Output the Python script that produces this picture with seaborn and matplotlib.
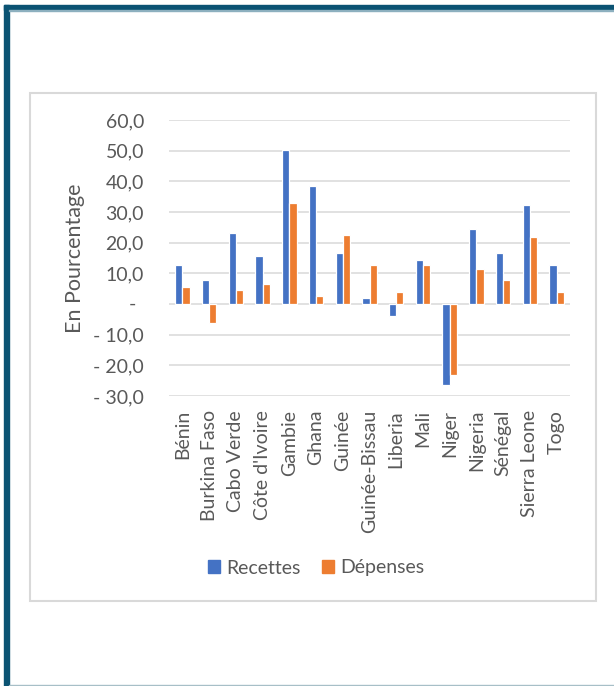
import matplotlib
matplotlib.use("Agg")
import matplotlib.pyplot as plt
import matplotlib.patches as mpatches
import matplotlib.transforms as mtransforms
import seaborn as sns
import pandas as pd

# ---- data ----
pays = ["Bénin", "Burkina Faso", "Cabo Verde", "Côte d'Ivoire", "Gambie", "Ghana",
        "Guinée", "Guinée-Bissau", "Liberia", "Mali", "Niger", "Nigeria", "Sénégal",
        "Sierra Leone", "Togo"]
recettes = [12.7, 7.7, 23.1, 15.5, 50.1, 38.5, 16.6, 1.8, -3.8, 14.2, -26.3, 24.4, 16.6, 32.4, 12.8]
depenses = [5.4, -6.3, 4.5, 6.4, 32.9, 2.5, 22.5, 12.8, 3.9, 12.8, -23.3, 11.5, 7.9, 21.8, 4.0]
series = ["Recettes", "Dépenses"]
yticks = [-30, -20, -10, 0, 10, 20, 30, 40, 50, 60]
ylabel = "En Pourcentage"

df = pd.DataFrame({
    "pays": pays * 2,
    "valeur": recettes + depenses,
    "serie": [series[0]] * len(pays) + [series[1]] * len(pays),
})

BLUE = "#4472C4"
ORANGE = "#ED7D31"
GRAY_TXT = "#595959"
GRID = "#D9D9D9"
FONT = "Lato"
FS = 14

sns.set_theme(style="white")
plt.rcParams["font.family"] = [FONT, "DejaVu Sans"]

fig = plt.figure(figsize=(6.14, 6.86), dpi=100)
ax = fig.add_axes([169 / 614, 1 - 396 / 686, 401 / 614, 276 / 686])

sns.barplot(data=df, x="pays", y="valeur", hue="serie", order=pays, hue_order=series,
            palette=[BLUE, ORANGE], width=0.54, edgecolor="white", linewidth=0.9,
            saturation=1, ax=ax, legend=False)

ax.set_ylim(-30, 60)
ax.set_xlim(-0.5, len(pays) - 0.5)
ax.set_yticks(yticks)


def fmt(v):
    if v == 0:
        return ""
    s = f"{abs(v):.1f}".replace(".", ",")
    return ("- " + s) if v < 0 else s


ax.set_yticklabels([fmt(v) for v in yticks])
ax.yaxis.grid(True, color=GRID, linewidth=1.1)
ax.xaxis.grid(False)
ax.set_axisbelow(True)
for sp in ax.spines.values():
    sp.set_visible(False)
ax.tick_params(axis="y", length=0, pad=18, labelsize=FS, labelcolor=GRAY_TXT)
ax.tick_params(axis="x", length=0, pad=10, labelsize=FS, labelcolor=GRAY_TXT)
plt.setp(ax.get_xticklabels(), rotation=90)
ax.set_xlabel("")

# zero label shown as "-"
trans = mtransforms.blended_transform_factory(ax.transAxes, ax.transData)
ax.annotate("-", xy=(0, 0), xycoords=trans, xytext=(-26.6, 0), textcoords="offset points",
            ha="center", va="center", fontsize=FS, color=GRAY_TXT)

ax.set_ylabel(ylabel, fontsize=15.5, color=GRAY_TXT)
ax.yaxis.set_label_coords((75 - 169) / 401, 0.5)
ax.yaxis.label.set_verticalalignment("center")

# legend
handles = [mpatches.Patch(color=BLUE, label=series[0]),
           mpatches.Patch(color=ORANGE, label=series[1])]
leg = fig.legend(handles=handles, loc="center", bbox_to_anchor=(316 / 614, 1 - 568 / 686),
                 ncol=2, frameon=False, fontsize=FS, handlelength=0.62, handleheight=0.62,
                 handletextpad=0.32, columnspacing=1.1, borderpad=0)
for t in leg.get_texts():
    t.set_color(GRAY_TXT)

# chart box
fig.patches.append(mpatches.Rectangle((30 / 614, 1 - 601 / 686), 566 / 614, 508 / 686,
                                      transform=fig.transFigure, fill=False,
                                      edgecolor=GRID, linewidth=1.5, zorder=0))
# outer decorative frame
DARK = "#0B5373"
fig.patches.append(mpatches.Rectangle((4 / 614, 1 - 10 / 686), 610 / 614, 5 / 686,
                                      transform=fig.transFigure, color=DARK, zorder=0))
fig.patches.append(mpatches.Rectangle((4 / 614, 0), 5 / 614, 1 - 5 / 686,
                                      transform=fig.transFigure, color=DARK, zorder=0))
fig.patches.append(mpatches.Rectangle((9 / 614, 1 - 11 / 686), 605 / 614, 1 / 686,
                                      transform=fig.transFigure, color="#8DB0BF", zorder=0))
fig.patches.append(mpatches.Rectangle((9 / 614, 0), 605 / 614, 1.2 / 686,
                                      transform=fig.transFigure, color="#A7BFC7", zorder=0))

fig.savefig("out.png", dpi=100, facecolor="white")
